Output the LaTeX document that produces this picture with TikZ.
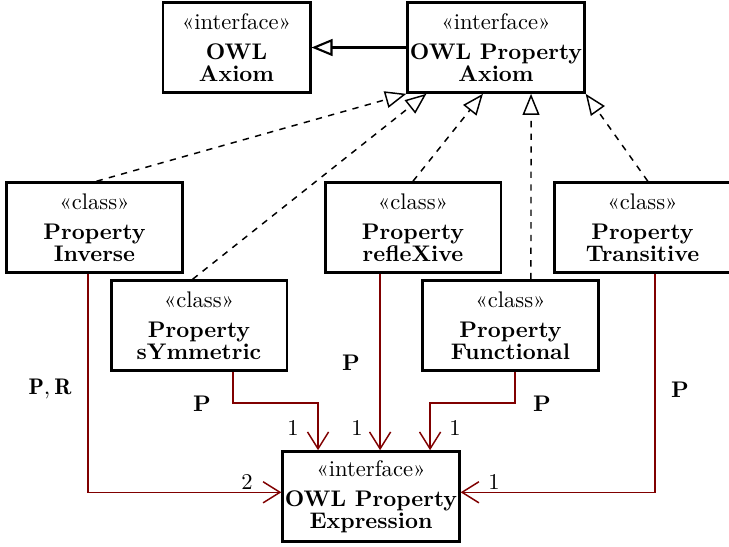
\documentclass[tikz,border=0pt]{standalone}
\usepackage{fontspec}
\usepackage{tikz}
\usetikzlibrary{arrows.meta, positioning}
\definecolor{assocred}{RGB}{128,0,0}

\begin{document}
\begin{tikzpicture}[x=0.474pt,y=-0.474pt,
		font=\fontsize{10.7pt}{10.4pt}\selectfont]

	\tikzset{uml box/.style={draw,
			line width=1.4pt,
			minimum width=#1,
			minimum height=42.5pt,
			align=center,
			inner sep=1pt
		},
		uml box/.default=83.4pt,
		realize/.style={dashed, line width=0.7pt,
			-{Triangle[open,length=10pt,width=8pt]}},
		general/.style={line width=1pt,
			-{Triangle[open,length=10pt,width=8pt]}},
		assoc/.style={draw=assocred, line width=0.7pt,
			-{Straight Barb[length=8pt,width=10pt]}},
		mult/.style={inner sep=0pt},
		role/.style={inner sep=0pt, font=\fontsize{10.7pt}{10.4pt}\selectfont\bfseries}
	}

	\useasboundingbox (0,0) rectangle (729,546);

	% interfaces
	\node[uml box=69.7pt] (axiom) at (236.5,47.5) {«interface»\\[4pt]\textbf{OWL}\\\textbf{Axiom}};
	\node[uml box] (propaxiom) at (496,47.5) {«interface»\\[4pt]\textbf{OWL Property}\\\textbf{Axiom}};
	\node[uml box] (expression) at (371,496.5) {«interface»\\[4pt]\textbf{OWL Property}\\\textbf{Expression}};

	% classes
	\node[uml box] (inverse) at (94.5,227.5) {«class»\\[4pt]\textbf{Property}\\\textbf{Inverse}};
	\node[uml box] (reflexive) at (413,227.5) {«class»\\[4pt]\textbf{Property}\\\textbf{refleXive}};
	\node[uml box] (transitive) at (642.5,227.5) {«class»\\[4pt]\textbf{Property}\\\textbf{Transitive}};
	\node[uml box] (symmetric) at (199,325.5) {«class»\\[4pt]\textbf{Property}\\\textbf{sYmmetric}};
	\node[uml box] (functional) at (510.5,325.5) {«class»\\[4pt]\textbf{Property}\\\textbf{Functional}};

	% generalization and realization
	\draw[general] (propaxiom) -- (axiom);
	\draw[realize] ([xshift=1pt]inverse.north) -- (propaxiom.south west);
	\draw[realize] ([xshift=-3pt]symmetric.north) -- ([xshift=9.5pt]propaxiom.south west);
	\draw[realize] (reflexive.north) -- ([xshift=-6.2pt]propaxiom.south);
	\draw[realize] ([xshift=9.7pt]functional.north) -- ([xshift=16.6pt]propaxiom.south);
	\draw[realize] ([xshift=2.5pt]transitive.north) -- (propaxiom.south east);

	% associations
	\draw[assoc] ([xshift=-3pt]inverse.south) |- ([yshift=2pt]expression.west);
	\draw[assoc] ([xshift=16.1pt]symmetric.south) -- ++(0,31) -| ([xshift=-25.1pt]expression.north);
	\draw[assoc] ([xshift=-15.6pt]reflexive.south) coordinate (r) -- (r |- expression.north);
	\draw[assoc] ([xshift=2.1pt]functional.south) -- ++(0,31) -| ([xshift=28pt]expression.north);
	\draw[assoc] ([xshift=5.9pt]transitive.south) |- ([yshift=2pt]expression.east);

	% roles and multiplicities
	\node[role] (rolePR) at (50,389) {$\mathbf{P},\mathbf{R}$};
	\node[role] (roleS) at (202,404) {P};
	\node[role] (roleX) at (351,363) {P};
	\node[role] (roleF) at (542,404) {P};
	\node[role] (roleT) at (680,390) {P};
	\node[mult] (multI) at (247,482) {2};
	\node[mult] (multS) at (293,428) {1};
	\node[mult] (multX) at (357,428) {1};
	\node[mult] (multF) at (455,428) {1};
	\node[mult] (multT) at (494,482) {1};

\end{tikzpicture}
\end{document}
